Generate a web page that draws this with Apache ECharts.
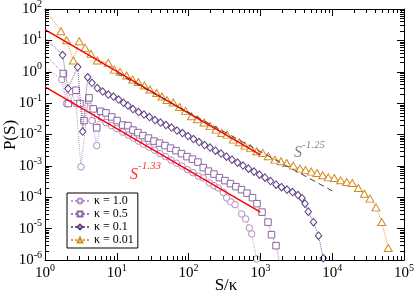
<!DOCTYPE html>
<html><head><meta charset="utf-8">
<script src="https://cdn.jsdelivr.net/npm/echarts@6/dist/echarts.min.js"></script>
<style>html,body{margin:0;padding:0;background:#fff}#c{width:415px;height:296px}</style>
</head><body><div id="c"></div>
<script>
const seriesNames = ['κ = 1.0', 'κ = 0.5', 'κ = 0.1', 'κ = 0.01'];
const xTitle = 'S/κ';
const yTitle = 'P(S)';

const kappa1 = [[0.8,1.95],[1.72,0.564],[1.99,0.0968],[2.30,0.233],[2.70,0.0968],[3.17,0.000927],[4.01,0.120],[4.51,0.0277],[5.25,0.00443],[6.12,0.0346],[7.07,0.0240],[8.44,0.0192],[9.97,0.0154],[12.1,0.0119],[14.5,0.00957],[17.1,0.00768],[20.1,0.00616],[23.5,0.00494],[28.1,0.00396],[33.5,0.00318],[40.0,0.00246],[47.7,0.00197],[56.9,0.00153],[67.8,0.00122],[80.9,0.000982],[96.5,0.000759],[115,0.000609],[137,0.000471],[160,0.000413],[194,0.000286],[226,0.000234],[259,0.000198],[304,0.000143],[339,0.0000950],[386,0.0000708],[443,0.0000581],[549,0.0000293],[624,0.0000203],[700,0.0000105],[757,0.00000675],[888,0.00000108]];

const kappa05 = [[0.8,6.0],[1.80,0.877],[2.11,0.0968],[2.70,0.257],[3.07,0.0968],[3.49,0.0277],[4.10,0.147],[4.71,0.0656],[5.25,0.0163],[5.97,0.0549],[7.07,0.0489],[8.49,0.0364],[10.1,0.0277],[12.1,0.0200],[14.3,0.0192],[16.8,0.0138],[19.7,0.0115],[23.2,0.00923],[27.6,0.00768],[33.0,0.00616],[39.3,0.00532],[46.9,0.00443],[56.0,0.00368],[66.8,0.00306],[79.6,0.00246],[95.0,0.00197],[113,0.00164],[135,0.00132],[160,0.000879],[189,0.000681],[226,0.000546],[269,0.000422],[321,0.000339],[383,0.000272],[457,0.000218],[546,0.000175],[651,0.000135],[776,0.0000971],[897,0.0000625],[1053,0.0000335],[1276,0.0000161],[1428,0.00000641],[1650,0.00000286],[2064,0.0000003]];

const kappa01 = [[0.8,20],[1.76,3.41],[2.09,0.291],[2.85,1.41],[3.35,0.0124],[3.93,0.668],[4.51,0.443],[5.35,0.302],[6.36,0.233],[7.61,0.187],[8.99,0.162],[10.6,0.130],[12.4,0.102],[14.3,0.0835],[16.8,0.0646],[20.1,0.0518],[23.9,0.0431],[28.5,0.0359],[34.0,0.0288],[40.6,0.0240],[48.4,0.0200],[57.8,0.0166],[68.9,0.0133],[82.2,0.0111],[98.1,0.00890],[117,0.00713],[140,0.00573],[167,0.00459],[199,0.00382],[237,0.00306],[283,0.00246],[337,0.00197],[402,0.00158],[480,0.00127],[572,0.00102],[683,0.000817],[815,0.000656],[972,0.000526],[1159,0.000422],[1383,0.000327],[1650,0.000252],[1967,0.000210],[2347,0.000175],[2800,0.000146],[3340,0.000117],[3796,0.0000936],[4181,0.0000625],[4647,0.0000348],[5491,0.0000161],[6447,0.00000596],[7516,0.00000114]];

const kappa001 = [[0.8,200],[1.67,19.6],[2.0,10.1],[2.48,2.28],[3.0,9.4],[3.61,5.78],[4.37,3.72],[5.35,2.28],[7.61,1.92],[9.23,1.17],[11.1,0.99],[13.7,0.757],[16.6,0.564],[19.9,0.469],[24.2,0.363],[29.0,0.270],[35.9,0.209],[42.6,0.162],[50.0,0.125],[61.2,0.104],[74.7,0.0748],[90.5,0.0566],[110,0.0380],[133,0.0305],[164,0.0240],[199,0.0185],[241,0.0143],[289,0.0112],[343,0.00993],[419,0.00687],[508,0.00564],[610,0.00442],[728,0.00374],[888,0.00291],[1077,0.00259],[1288,0.00202],[1597,0.00158],[1936,0.00140],[2324,0.00124],[2872,0.00102],[3560,0.000817],[4248,0.000731],[5116,0.000656],[6142,0.000596],[7375,0.000500],[8825,0.000431],[10700,0.000413],[13130,0.000346],[15920,0.000308],[19050,0.000286],[23100,0.000198],[28000,0.000130],[33620,0.0000902],[40740,0.0000476],[48920,0.0000163],[60430,0.00000242]];

const fitUpper133 = [[1,22],[1000,0.00225]];
const fitLower133 = [[1,0.33],[1000,0.0000338]];
const fit125 = [[10,0.9],[10000,0.00016]];
const label133Pos = [[15.3,0.00053]];
const label125Pos = [[2940,0.0026]];

const xMin = 1, xMax = 1e5, yMin = 1e-6, yMax = 100;
const xMinor = [], yMinor = [];
for (let k = 0; k < 5; k++) for (let m = 2; m <= 9; m++) xMinor.push(m * Math.pow(10, k));
for (let k = -6; k < 2; k++) for (let m = 2; m <= 9; m++) yMinor.push(m * Math.pow(10, k));
const tickData = [];
xMinor.forEach(v => tickData.push([v, yMin, 0]));
yMinor.forEach(v => tickData.push([xMin, v, 1]));

const serif = 'Liberation Serif';
const colors = ['#b38cc6', '#8a67a2', '#5d3d80', '#d38c1f'];
const symbols = ['circle', 'rect', 'diamond', 'triangle'];
const sizes = [6.5, 6.5, [6.5, 7.5], [8, 7]];
const datasets = [kappa1, kappa05, kappa01, kappa001];

function expLabel(v) {
  const e = Math.round(Math.log10(v));
  return '{b|10}{s|' + e + '}';
}
const labelRich = {
  b: { fontFamily: serif, fontSize: 15, color: '#000' },
  s: { fontFamily: serif, fontSize: 10, color: '#000', padding: [0, 0, 10, 0] }
};

const axisCommon = {
  type: 'log', logBase: 10,
  axisLine: { show: true, lineStyle: { color: '#000', width: 1 } },
  axisTick: { show: true, inside: true, length: 7, lineStyle: { color: '#000', width: 1 } },
  splitLine: { show: false },
  minorTick: { show: false },
  minorSplitLine: { show: false }
};

const series = [];
datasets.forEach((d, i) => {
  series.push({
    name: seriesNames[i], type: 'line', data: d, clip: true,
    symbol: symbols[i], symbolSize: sizes[i], showAllSymbol: true,
    lineStyle: { color: colors[i], width: 1, type: 'dotted', opacity: 0.85 },
    itemStyle: { color: '#fff', borderColor: colors[i], borderWidth: 1 },
    emphasis: { disabled: true }, z: 3 + i
  });
});
[fitUpper133, fitLower133].forEach(d => series.push({
  type: 'line', data: d, symbol: 'none', clip: true,
  lineStyle: { color: '#ff0000', width: 1.5 }, z: 8, silent: true
}));
series.push({
  type: 'line', data: fit125, symbol: 'none', clip: true,
  lineStyle: { color: '#444', width: 1, type: [6, 4] }, z: 8, silent: true
});
series.push({
  type: 'scatter', data: label133Pos, symbolSize: 0, silent: true, z: 9,
  label: { show: true, position: 'right', distance: 0, formatter: '{s|S}{e|-1.33}',
    rich: { s: { fontFamily: serif, fontStyle: 'italic', fontSize: 16, color: '#ff0000' },
            e: { fontFamily: serif, fontStyle: 'italic', fontSize: 11, color: '#ff0000', padding: [0, 0, 16, 0] } } }
});
series.push({
  type: 'scatter', data: label125Pos, symbolSize: 0, silent: true, z: 9,
  label: { show: true, position: 'right', distance: 0, formatter: '{s|S}{e|-1.25}',
    rich: { s: { fontFamily: serif, fontStyle: 'italic', fontSize: 16, color: '#666' },
            e: { fontFamily: serif, fontStyle: 'italic', fontSize: 11, color: '#666', padding: [0, 0, 16, 0] } } }
});
series.push({
  type: 'custom', data: tickData, silent: true, clip: false, z: 20,
  encode: { x: 0, y: 1 },
  renderItem: function (params, api) {
    const kind = api.value(2);
    const st = { stroke: '#000', lineWidth: 1 };
    if (kind === 0) {
      const v = api.value(0);
      const b = api.coord([v, yMin]), t = api.coord([v, yMax]);
      const x = Math.round(b[0]) + 0.5;
      return { type: 'group', children: [
        { type: 'line', shape: { x1: x, y1: b[1], x2: x, y2: b[1] - 4 }, style: st },
        { type: 'line', shape: { x1: x, y1: t[1], x2: x, y2: t[1] + 4 }, style: st }
      ] };
    } else {
      const v = api.value(1);
      const l = api.coord([xMin, v]), r = api.coord([xMax, v]);
      const y = Math.round(l[1]) + 0.5;
      return { type: 'group', children: [
        { type: 'line', shape: { x1: l[0], y1: y, x2: l[0] + 4, y2: y }, style: st },
        { type: 'line', shape: { x1: r[0], y1: y, x2: r[0] - 4, y2: y }, style: st }
      ] };
    }
  }
});

const chart = echarts.init(document.getElementById('c'), null, { renderer: 'canvas' });
chart.setOption({
  animation: false,
  backgroundColor: '#fff',
  grid: { left: 45, right: 11, top: 9, bottom: 36, containLabel: false, outerBoundsMode: 'none' },
  legend: {
    data: seriesNames, orient: 'vertical', left: 67, top: 193,
    itemWidth: 18, itemHeight: 6, itemGap: 1, padding: [2, 4, 2, 3],
    backgroundColor: '#fff', borderColor: '#000', borderWidth: 1, borderRadius: 0,
    textStyle: { fontFamily: serif, fontSize: 12, color: '#000', lineHeight: 10 },
    selectedMode: false
  },
  graphic: [
    { type: 'text', x: 11, y: 135, rotation: Math.PI / 2, silent: true,
      style: { text: yTitle, fontFamily: serif, fontSize: 17, fill: '#000', align: 'center', verticalAlign: 'middle' } },
    { type: 'text', x: 226, y: 286, silent: true,
      style: { text: xTitle, fontFamily: serif, fontSize: 17, fill: '#000', align: 'center', verticalAlign: 'middle' } }
  ],
  xAxis: [
    Object.assign({}, axisCommon, { position: 'bottom', min: xMin, max: xMax, splitNumber: 5,
      axisLabel: { show: true, margin: 3, formatter: expLabel, rich: labelRich } }),
    Object.assign({}, axisCommon, { position: 'top', min: xMin, max: xMax, splitNumber: 5,
      axisLabel: { show: false } })
  ],
  yAxis: [
    Object.assign({}, axisCommon, { position: 'left', min: yMin, max: yMax, splitNumber: 8,
      axisLabel: { show: true, margin: 3, formatter: expLabel, rich: labelRich } }),
    Object.assign({}, axisCommon, { position: 'right', min: yMin, max: yMax, splitNumber: 8,
      axisLabel: { show: false } })
  ],
  series: series
});
</script>
</body></html>
